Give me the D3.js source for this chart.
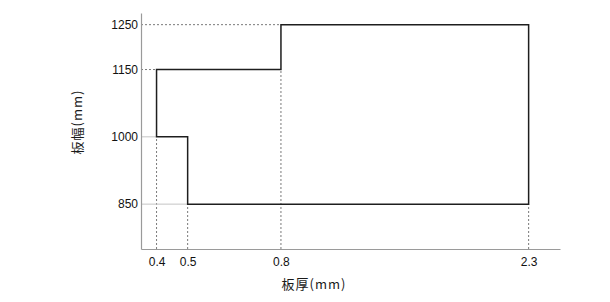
<!DOCTYPE html>
<html>
<head>
<meta charset="utf-8">
<script src="https://cdn.jsdelivr.net/npm/d3@7"></script>
<style>
  html, body { margin: 0; padding: 0; background: #fff; }
  svg { display: block; }
</style>
</head>
<body>
<svg id="chart" width="610" height="302"></svg>
<script>
// ---- data ----
const thicknessTicks = [0.4, 0.5, 0.8, 2.3];
const widthTicks = [850, 1000, 1150, 1250];
const outlineThickness = [0.4, 0.4, 0.8, 0.8, 2.3, 2.3, 0.5, 0.5];
const outlineWidth = [1000, 1150, 1150, 1250, 1250, 850, 850, 1000];
const xTitle = "板厚(mm)";
const yTitle = "板幅(mm)";
const xBreaks = [0.35, 0.8, 2.49];
const yDomain = [750, 1276];

// ---- layout ----
const mLeft = 141, mRight = 560, mTop = 13, mBottom = 249;
const svg = d3.select("#chart");

const x = d3.scaleLinear()
  .domain(xBreaks)
  .range([mLeft, mLeft + (mRight - mLeft) * 0.334, mRight]);
const y = d3.scaleLinear().domain(yDomain).range([mBottom, mTop]);

const pts = outlineThickness.map((t, i) => [t, outlineWidth[i]]);

const guideColor = "#7a7a7a";
const solidGuides = [850, 1000];

// vertical guides
svg.append("g").selectAll("line").data(thicknessTicks).join("line")
  .attr("x1", d => x(d)).attr("x2", d => x(d))
  .attr("y1", y(yDomain[0]))
  .attr("y2", d => y(d3.min(pts.filter(p => p[0] === d), p => p[1])))
  .attr("stroke", guideColor).attr("stroke-width", 1)
  .attr("stroke-dasharray", "2,2");

// horizontal guides
svg.append("g").selectAll("line").data(widthTicks).join("line")
  .attr("y1", d => y(d)).attr("y2", d => y(d))
  .attr("x1", x(xBreaks[0]))
  .attr("x2", d => x(d3.min(pts.filter(p => p[1] === d), p => p[0])))
  .attr("stroke", d => solidGuides.includes(d) ? "#c4c4c4" : guideColor)
  .attr("stroke-width", 1)
  .attr("stroke-dasharray", d => solidGuides.includes(d) ? null : "2,2");

// axes
const xAxis = svg.append("g").attr("transform", `translate(0,${mBottom})`)
  .call(d3.axisBottom(x).tickValues(thicknessTicks).tickSize(0).tickPadding(8)
    .tickFormat(d3.format(".1f")));
const yAxis = svg.append("g").attr("transform", `translate(${mLeft},0)`)
  .call(d3.axisLeft(y).tickValues(widthTicks).tickSize(0).tickPadding(3)
    .tickFormat(d3.format("d")));

[xAxis, yAxis].forEach(a => {
  a.select(".domain").attr("stroke", "#9a9a9a").attr("stroke-width", 1.2);
  a.selectAll("text")
    .attr("font-family", "Liberation Sans, Arial, sans-serif")
    .attr("font-size", 12).attr("fill", "#111");
});

// outline
svg.append("path")
  .datum(pts)
  .attr("d", d3.line().x(d => x(d[0])).y(d => y(d[1])).curve(d3.curveLinearClosed))
  .attr("fill", "none").attr("stroke", "#1e1e1e").attr("stroke-width", 1.5);

// titles
svg.append("text")
  .attr("x", 314).attr("y", 289)
  .attr("text-anchor", "middle")
  .attr("font-family", "Noto Sans CJK JP, sans-serif")
  .attr("font-size", 13).attr("letter-spacing", 1)
  .attr("fill", "#1a1a1a")
  .text(xTitle);

svg.append("text")
  .attr("transform", "translate(82,122) rotate(-90)")
  .attr("text-anchor", "middle")
  .attr("font-family", "Noto Sans CJK JP, sans-serif")
  .attr("font-size", 13).attr("letter-spacing", 1)
  .attr("fill", "#1a1a1a")
  .text(yTitle);
</script>
</body>
</html>
